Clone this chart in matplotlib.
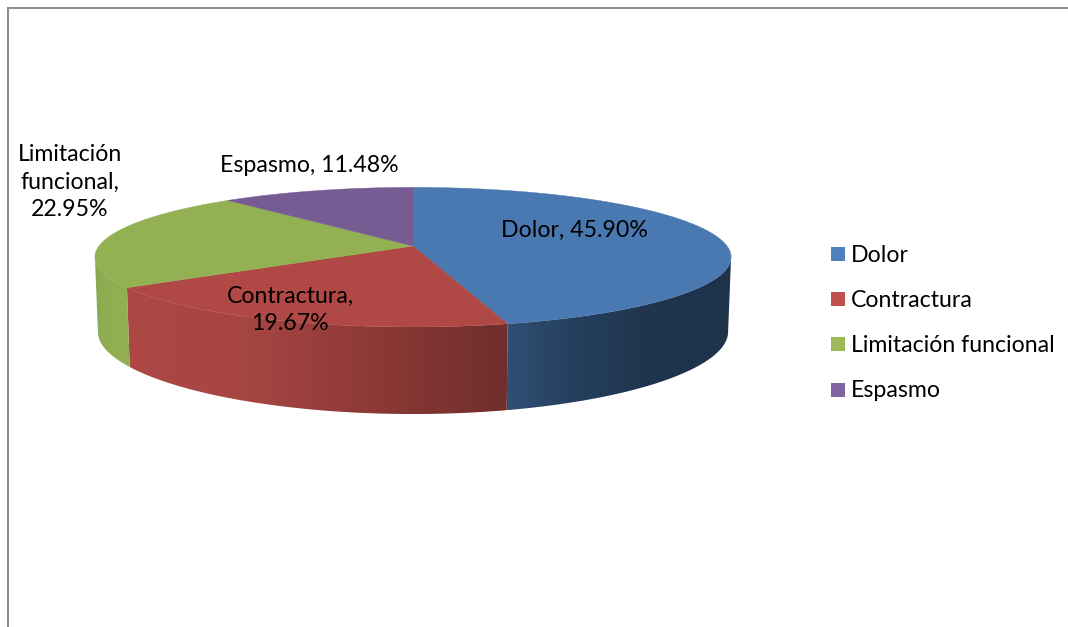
import numpy as np
import matplotlib
matplotlib.use('Agg')
import matplotlib.pyplot as plt
from matplotlib.colors import LinearSegmentedColormap
from matplotlib.patches import Polygon, Rectangle

categories = ['Dolor', 'Contractura', 'Limitación funcional', 'Espasmo']
values = [45.90, 19.67, 22.95, 11.48]

top_colors = ['#4a78b0', '#b04946', '#93b152', '#775c94']
legend_colors = ['#4f81bd', '#c0504d', '#9bbb59', '#8064a2']
side_colors = [
    ['#2f4f73', '#243e5c', '#1f344d', '#1e324a'],
    ['#ad4845', '#a54542', '#8b3835', '#6f2e2c'],
    ['#8aa84f', '#90ae52', '#91af52', '#91af52'],
    ['#775c94', '#775c94', '#775c94', '#775c94'],
]

plt.rcParams['font.family'] = ['Lato', 'DejaVu Sans']


def top_edge(theta):
    # borde superior del disco, con perspectiva
    u, v = np.sin(theta), -np.cos(theta)
    w = 1 - 0.16 * v
    return 413 + 314 * u / w, 246 + 68 * v / w


def bottom_edge(theta):
    # borde inferior, un poco mas estrecho y mas abajo
    u, v = np.sin(theta), -np.cos(theta)
    return 413 + 311 * u / (1 - 0.16 * v), 319.4 + 75.7 * v / (1 - 0.2 * v)


fig = plt.figure(figsize=(10.68, 6.27), dpi=100)
ax = fig.add_axes([0, 0, 1, 1])

# marco gris: solo arriba y a la izquierda
ax.plot([8, 8, 1068], [627, 8, 8], color='#8f8f8f', lw=1.5, solid_joinstyle='miter')

edges = np.cumsum([0] + values) / sum(values) * 2 * np.pi

# solo se ve la parte delantera del lateral
front_start = np.arccos(-0.16)
front_end = 2 * np.pi - front_start

for i in range(len(values)):
    a = max(edges[i], front_start)
    b = min(edges[i + 1], front_end)
    if a >= b:
        continue
    th = np.linspace(a, b, 200)
    xt, yt = top_edge(th)
    xb, yb = bottom_edge(th)
    pts = np.column_stack([np.r_[xt, xb[::-1]], np.r_[yt, yb[::-1]]])
    poly = Polygon(pts, closed=True, facecolor='none', edgecolor='none')
    ax.add_patch(poly)
    cmap = LinearSegmentedColormap.from_list('side', side_colors[i])
    grad = np.linspace(0, 1, 256).reshape(1, -1)
    im = ax.imshow(grad, cmap=cmap, aspect='auto', interpolation='bilinear',
                   extent=[pts[:, 0].min(), pts[:, 0].max(), pts[:, 1].max(), pts[:, 1].min()])
    im.set_clip_path(poly)

# tapa superior
for i in range(len(values)):
    th = np.linspace(edges[i], edges[i + 1], 200)
    xt, yt = top_edge(th)
    pts = np.column_stack([np.r_[413, xt], np.r_[246, yt]])
    ax.add_patch(Polygon(pts, closed=True, facecolor=top_colors[i],
                         edgecolor=top_colors[i], lw=0.3, zorder=3))

# etiquetas de datos
label_font = 16.7
names = ['Dolor', 'Contractura', 'Limitación\nfuncional', 'Espasmo']
seps = [', ', ',\n', ',\n', ', ']
label_xy = [(574, 230), (290, 310), (70, 182), (309, 165)]
for name, sep, val, (lx, ly) in zip(names, seps, values, label_xy):
    ax.text(lx, ly, f'{name}{sep}{val:.2f}%', ha='center', va='center',
            fontsize=label_font, color='black', linespacing=1.41, zorder=5)

# leyenda
for i, cat in enumerate(categories):
    ly = 254 + i * 45.2
    ax.add_patch(Rectangle((831, ly - 7), 14, 14, facecolor=legend_colors[i], edgecolor='none'))
    ax.text(851, ly + 1, cat, ha='left', va='center', fontsize=label_font, color='black')

ax.set_xlim(0, 1068)
ax.set_ylim(627, 0)
ax.axis('off')

fig.savefig('out.png', dpi=100, facecolor='white')
